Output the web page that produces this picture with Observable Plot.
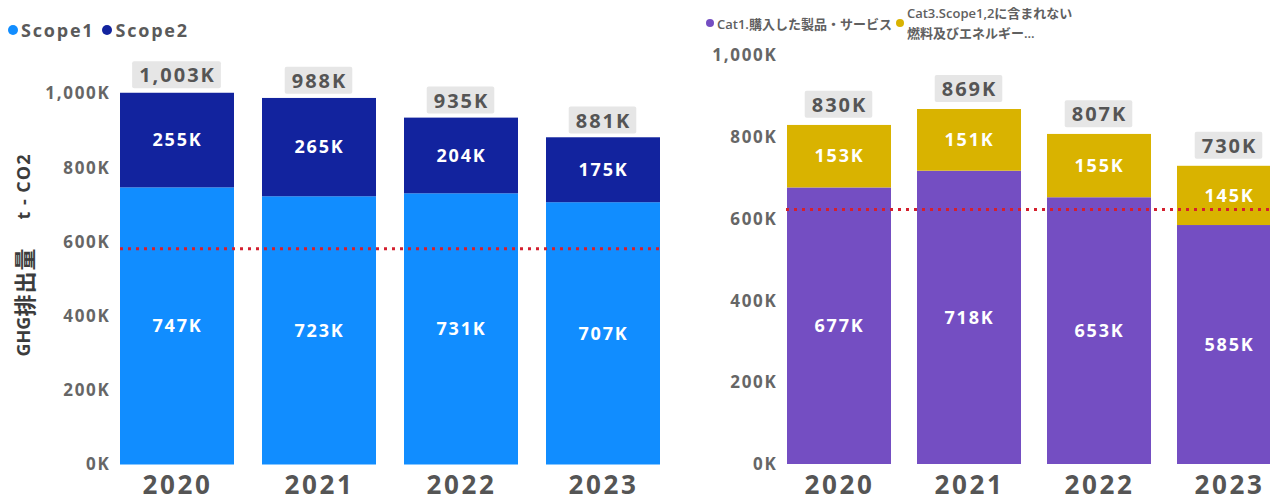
<!DOCTYPE html>
<html>
<head>
<meta charset="utf-8">
<script src="https://cdn.jsdelivr.net/npm/d3@7"></script>
<script src="https://cdn.jsdelivr.net/npm/@observablehq/plot@0.6"></script>
<style>
  html, body { margin: 0; padding: 0; background: #fff; }
  #wrap { position: relative; width: 1270px; height: 502px; overflow: hidden; font-family: "Open Sans", "Noto Sans CJK JP", sans-serif; }
  .legend { position: absolute; color: #5a5a5a; white-space: nowrap; display: flex; align-items: center; }
  .dot { display: inline-block; border-radius: 50%; }
  #legL { left: 8px; top: 14px; height: 32px; font-size: 18px; font-weight: 700; letter-spacing: 0.1em; }
  #legL .dot { width: 10px; height: 10px; margin-right: 3px; }
  #legL .item { display: flex; align-items: center; margin-right: 8px; }
  #legR { left: 706px; top: 3px; height: 40px; font-size: 13px; font-weight: 600; color: #606060; }
  #legR .dot { width: 8px; height: 8px; margin-right: 3px; }
  #legR .item { display: flex; align-items: center; margin-right: 4px; }
  #legR .two { line-height: 20px; }
  #ytitle { position: absolute; left: 23px; top: 255px; transform: translate(-50%, -50%) rotate(-90deg);
            white-space: nowrap; font-size: 18px; font-weight: 700; color: #3c3c3c; display: flex; align-items: center; line-height: 22px; }
  #ytitle .cjk { font-size: 22px; letter-spacing: 1px; font-family: "Noto Sans CJK JP", sans-serif; }
  #ytitle .gap { display: inline-block; width: 28px; }
  #ytitle .unit { letter-spacing: 1px; }
  .panel { position: absolute; }
  .panel svg text { letter-spacing: 0.1em; }
</style>
</head>
<body>
<div id="wrap">
  <div id="legL" class="legend"></div>
  <div id="legR" class="legend"></div>
  <div id="pL" class="panel" style="left:0px;top:45px;"></div>
  <div id="pR" class="panel" style="left:660px;top:42px;"></div>
  <div id="ytitle"></div>
</div>
<script>
// ---- data ----
const years = ["2020", "2021", "2022", "2023"];
const yTicks = [0, 200, 400, 600, 800, 1000];          // thousand t-CO2

const seriesL = ["Scope1", "Scope2"];
const colorsL = ["#118DFF", "#12239E"];
const scope1 = [747, 723, 731, 707];
const scope2 = [255, 265, 204, 175];
const totalsL = [1003, 988, 935, 881];
const targetL = 583;
const yTitleParts = ["GHG", "排出量", "t - CO2"];

const seriesR = ["Cat1.購入した製品・サービス", "Cat3.Scope1,2に含まれない燃料及びエネルギー..."];
const legendR = [["Cat1.購入した製品・サービス"], ["Cat3.Scope1,2に含まれない", "燃料及びエネルギー..."]];
const colorsR = ["#744EC2", "#D9B300"];
const cat1 = [677, 718, 653, 585];
const cat3 = [153, 151, 155, 145];
const totalsR = [830, 869, 807, 730];
const targetR = 624;

// ---- helpers ----
const fmtK = d => d3.format(",")(d) + "K";

function panel(o) {
  const rows = [];
  years.forEach((yr, i) => {
    rows.push({year: yr, series: o.series[0], value: o.a[i]});
    rows.push({year: yr, series: o.series[1], value: o.b[i]});
  });
  const tot = years.map((yr, i) => ({year: yr, total: o.totals[i]}));
  const marks = [
    Plot.barY(rows, {x: "year", y: "value", fill: "series"}),
    Plot.text(rows, Plot.stackY({x: "year", y: "value", text: d => fmtK(d.value), fill: "white", fontSize: 18, fontWeight: 700})),
    Plot.ruleY([o.target], {stroke: "#D4202E", strokeWidth: 3, strokeDasharray: "3,5"}),
    Plot.text(tot, {x: "year", y: "total", text: d => fmtK(d.total), dy: o.totalDy, fill: "#555", fontSize: 20, fontWeight: 700, ariaDescription: "totals"}),
    Plot.axisY({ticks: yTicks, tickFormat: fmtK, tickSize: 0, tickPadding: o.tickPadding, fontSize: 17, fontWeight: 700, color: "#666", label: null}),
    Plot.axisX({tickSize: 0, tickPadding: 11, fontSize: 26, fontWeight: 700, color: "#555", label: null})
  ];
  return Plot.plot({
    width: o.width, height: o.height,
    marginLeft: o.marginLeft, marginRight: 0, marginTop: o.marginTop, marginBottom: o.marginBottom,
    style: {fontFamily: '"Open Sans","Noto Sans CJK JP",sans-serif', background: "transparent", overflow: "hidden"},
    x: Object.assign({type: "band", domain: years, paddingInner: 0.2, paddingOuter: 0}, o.xRange ? {range: o.xRange} : {}),
    y: {domain: [0, 1000]},
    color: {domain: o.series, range: o.colors},
    marks
  });
}

// grey label boxes behind the total labels (sized from the rendered text)
function boxes(svg) {
  let group = svg.querySelector('g[aria-description="totals"]');
  if (!group) {
    const textGroups = Array.from(svg.children).filter(g => g.getAttribute && g.getAttribute("aria-label") === "text");
    group = textGroups[1];
  }
  if (!group) return;
  Array.from(group.querySelectorAll("text")).forEach(t => {
    const b = t.getBBox();
    const r = document.createElementNS("http://www.w3.org/2000/svg", "rect");
    r.setAttribute("x", b.x - 7);
    r.setAttribute("y", b.y);
    r.setAttribute("width", b.width + 12);
    r.setAttribute("height", b.height);
    r.setAttribute("fill", "#E6E6E6");
    r.setAttribute("stroke", "none");
    r.setAttribute("rx", 2);
    if (t.getAttribute("transform")) r.setAttribute("transform", t.getAttribute("transform"));
    group.insertBefore(r, group.firstChild);
  });
}

// ---- legends & title ----
const legL = document.getElementById("legL");
seriesL.forEach((s, i) => {
  const it = document.createElement("span");
  it.className = "item";
  it.innerHTML = `<span class="dot" style="background:${colorsL[i]}"></span>${s}`;
  legL.appendChild(it);
});
const legR = document.getElementById("legR");
legendR.forEach((lines, i) => {
  const it = document.createElement("span");
  it.className = "item";
  it.innerHTML = `<span class="dot" style="background:${colorsR[i]}"></span><span class="${lines.length > 1 ? "two" : ""}">${lines.join("<br>")}</span>`;
  legR.appendChild(it);
});
document.getElementById("ytitle").innerHTML =
  `<span>${yTitleParts[0]}</span><span class="cjk">${yTitleParts[1]}</span><span class="gap"></span><span class="unit">${yTitleParts[2]}</span>`;

// ---- panels ----
const svgL = panel({
  series: seriesL, colors: colorsL, a: scope1, b: scope2, totals: totalsL, target: targetL,
  width: 660, height: 457, marginLeft: 120, marginTop: 48.5, marginBottom: 37.5,
  tickPadding: 10, totalDy: -17
});
document.getElementById("pL").appendChild(svgL);

const svgR = panel({
  series: seriesR, colors: colorsR, a: cat1, b: cat3, totals: totalsR, target: targetR,
  width: 610, height: 460, marginLeft: 126, marginTop: 13.5, marginBottom: 38,
  xRange: [126, 622.7], tickPadding: 9, totalDy: -20
});
document.getElementById("pR").appendChild(svgR);

boxes(svgL);
boxes(svgR);
</script>
</body>
</html>
